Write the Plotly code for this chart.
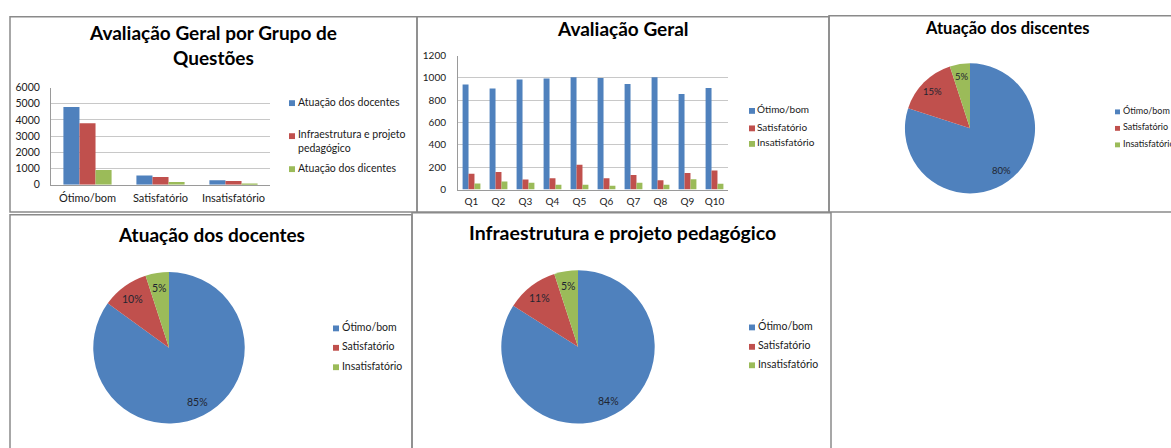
import math
import plotly.graph_objects as go

W, H = 1171, 448

# Panel 1: overall evaluation by question group
grupo_categorias = ["Ótimo/bom", "Satisfatório", "Insatisfatório"]
grupo_series = ["Atuação dos docentes", "Infraestrutura e projeto pedagógico", "Atuação dos dicentes"]
docentes_vals = [4800, 570, 270]
infra_vals = [3800, 480, 230]
dicentes_vals = [900, 170, 60]

# Panel 2: overall evaluation per question
questoes = ["Q1", "Q2", "Q3", "Q4", "Q5", "Q6", "Q7", "Q8", "Q9", "Q10"]
otimo_q = [940, 905, 985, 995, 1005, 1000, 945, 1005, 855, 910]
satisf_q = [142, 157, 90, 102, 221, 102, 131, 84, 148, 171]
insat_q = [55, 73, 61, 44, 44, 35, 61, 44, 93, 52]

# Pie panels (percentages)
niveis = ["Ótimo/bom", "Satisfatório", "Insatisfatório"]
pct_discentes = [80, 15, 5]
pct_docentes = [85, 10, 5]
pct_infra = [84, 11, 5]

cores = ["#4F81BD", "#C0504D", "#9BBB59"]
FONT = "Lato"
TXT = "#1a1a1a"


def px(x):
    return x / W


def py(y):
    return 1 - y / H


fig = go.Figure()
shapes = []
annotations = []

# ---- grouped bars, panel 1
for nome, vals, cor in zip(grupo_series, [docentes_vals, infra_vals, dicentes_vals], cores):
    fig.add_trace(go.Bar(x=grupo_categorias, y=vals, name=nome, marker_color=cor,
                         marker_line_width=0, xaxis="x", yaxis="y", showlegend=False))

# ---- grouped bars, panel 2
for nome, vals, cor in zip(niveis, [otimo_q, satisf_q, insat_q], cores):
    fig.add_trace(go.Bar(x=questoes, y=vals, name=nome, marker_color=cor,
                         marker_line_width=0, xaxis="x2", yaxis="y2", showlegend=False))


# ---- pies, with percentage labels placed along each slice's mid-angle
def add_pie(vals, cx, cy, r, fsize):
    fig.add_trace(go.Pie(
        labels=niveis, values=vals, sort=False, direction="clockwise", rotation=0,
        marker=dict(colors=cores, line=dict(width=0)),
        textinfo="none",
        domain=dict(x=[px(cx - r), px(cx + r)], y=[py(cy + r), py(cy - r)]),
        showlegend=False, hoverinfo="label+percent",
    ))
    total = float(sum(vals))
    inicio = 0.0
    for v in vals:
        meio = (inicio + v / 2) / total * 2 * math.pi
        inicio += v
        lx = cx + 0.8 * r * math.sin(meio)
        ly = cy - 0.8 * r * math.cos(meio)
        annotations.append(dict(text="%d%%" % round(100 * v / total), x=px(lx), y=py(ly),
                                xref="paper", yref="paper", xanchor="center", yanchor="middle",
                                showarrow=False, font=dict(family=FONT, size=fsize, color="#1f2530")))


add_pie(pct_discentes, 970, 125, 67, 9.5)
add_pie(pct_docentes, 169, 351, 78, 10.5)
add_pie(pct_infra, 578, 350, 79, 10.5)

# panel frames
frame = dict(type="rect", xref="paper", yref="paper", line=dict(color="#8a8a8a", width=1.5),
             fillcolor="rgba(0,0,0,0)", layer="above")
for x0, y0, x1, y1 in [(10, 10, 417, 211), (417, 10, 829, 211), (829, 9, 1180, 211),
                       (10, 214, 412, 460), (412, 212, 831, 460)]:
    shapes.append(dict(frame, x0=px(x0), x1=px(x1), y0=py(y1), y1=py(y0)))

# titles
for texto, cx, cy, fs in [("Avaliação Geral por Grupo de<br>Questões", 213, 39, 19),
                          ("Avaliação Geral", 623, 22, 19),
                          ("Atuação dos discentes", 1007, 22, 16.5),
                          ("Atuação dos docentes", 211, 234, 19),
                          ("Infraestrutura e projeto pedagógico", 622, 232, 19.5)]:
    annotations.append(dict(text="<b>%s</b>" % texto, x=px(cx), y=py(cy), xref="paper", yref="paper",
                            xanchor="center", yanchor="middle", showarrow=False,
                            font=dict(family=FONT, size=fs, color="#000000")))


# legends
def legenda(nomes, mx, tx, ys, fs, sq=6):
    for nome, cor, yy in zip(nomes, cores, ys):
        shapes.append(dict(type="rect", xref="paper", yref="paper", line=dict(width=0), fillcolor=cor,
                           x0=px(mx), x1=px(mx + sq), y0=py(yy + sq / 2), y1=py(yy - sq / 2)))
        linhas = nome.count("<br>")
        centro = yy + linhas * fs * 1.3 / 2 - 1.5
        annotations.append(dict(text=nome, x=px(tx), y=py(centro), xref="paper", yref="paper",
                                xanchor="left", yanchor="middle", align="left", showarrow=False,
                                font=dict(family=FONT, size=fs, color=TXT)))


legenda(["Atuação dos docentes", "Infraestrutura e projeto<br>pedagógico", "Atuação dos dicentes"],
        289, 296, [99, 133, 167], 10.5)
legenda(niveis, 749, 755, [107, 125, 141], 10)
legenda(niveis, 1115, 1121, [108, 125, 142], 9, sq=5)
legenda(niveis, 333, 340, [331, 351, 371], 10.5)
legenda(niveis, 749, 756, [330, 350, 369], 10.5)

eixo_y = dict(showgrid=True, gridcolor="#c8c8c8", gridwidth=1, showline=True, linecolor="#9a9a9a",
              linewidth=1, ticks="", tickfont=dict(family=FONT, size=10.5, color=TXT),
              zeroline=False, fixedrange=True)
eixo_x = dict(showline=True, linecolor="#9a9a9a", linewidth=1, ticks="", showgrid=False,
              tickfont=dict(family=FONT, size=11, color=TXT), fixedrange=True)

fig.update_layout(
    width=W, height=H, autosize=False,
    margin=dict(l=0, r=0, t=0, b=0),
    paper_bgcolor="white", plot_bgcolor="white",
    barmode="group",
    bargap=0.34,
    xaxis=dict(eixo_x, domain=[px(51), px(270)], anchor="y", ticklabelstandoff=3),
    yaxis=dict(eixo_y, domain=[py(183), py(83)], anchor="x", range=[0, 6000], dtick=1000,
               ticklabelstandoff=8),
    xaxis2=dict(eixo_x, domain=[px(458), px(728)], anchor="y2", ticklabelstandoff=2,
                tickfont=dict(family=FONT, size=10, color=TXT)),
    yaxis2=dict(eixo_y, domain=[py(188), py(50)], anchor="x2", range=[0, 1200], dtick=200,
                ticklabelstandoff=9, tickfont=dict(family=FONT, size=10, color=TXT)),
    shapes=shapes,
    annotations=annotations,
    font=dict(family=FONT),
)

fig.write_html("out.html")
